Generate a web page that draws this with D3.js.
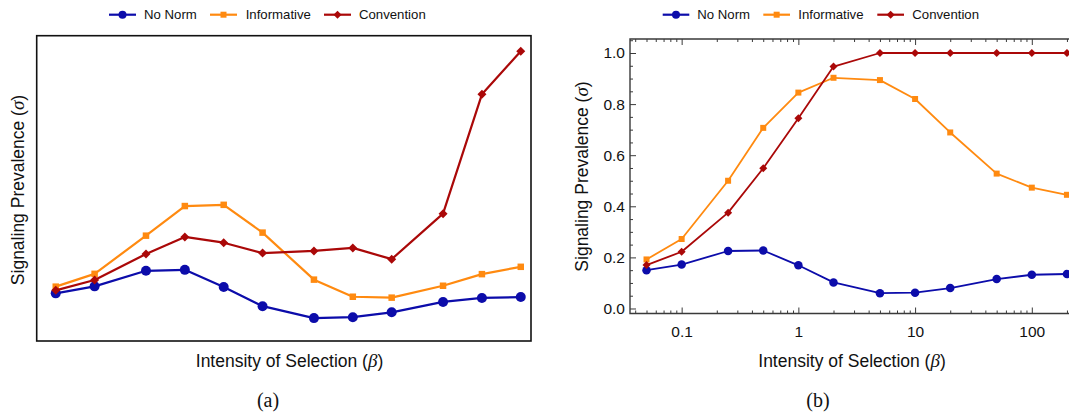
<!DOCTYPE html>
<html><head><meta charset="utf-8">
<script src="https://cdn.jsdelivr.net/npm/d3@7"></script>
<style>
html,body{margin:0;padding:0;background:#fff;}
svg{display:block;}
text{fill:#111;}
</style></head>
<body>
<svg id="c" width="1069" height="414" font-family="'Liberation Sans',Arial,Helvetica,sans-serif"></svg>
<script>
// ---------- data ----------
const beta = [0.05, 0.1, 0.25, 0.5, 1, 2, 5, 10, 20, 50, 100, 200];
const seriesNames = ["No Norm", "Informative", "Convention"];
// panel (a): no y scale shown, relative units (0 = bottom of frame, 1 = top)
const noNormA      = [0.156, 0.179, 0.230, 0.233, 0.177, 0.114, 0.075, 0.078, 0.094, 0.128, 0.141, 0.144];
const informativeA = [0.178, 0.220, 0.345, 0.442, 0.446, 0.355, 0.201, 0.145, 0.142, 0.181, 0.219, 0.243];
const conventionA  = [0.166, 0.200, 0.285, 0.341, 0.322, 0.288, 0.295, 0.305, 0.268, 0.417, 0.808, 0.949];
// panel (b)
const noNormB      = [0.150, 0.172, 0.225, 0.227, 0.169, 0.102, 0.060, 0.062, 0.080, 0.115, 0.132, 0.135];
const informativeB = [0.192, 0.272, 0.500, 0.707, 0.845, 0.903, 0.894, 0.820, 0.689, 0.528, 0.473, 0.445];
const conventionB  = [0.170, 0.222, 0.375, 0.549, 0.745, 0.947, 1.000, 1.000, 1.000, 1.000, 1.000, 1.000];
const yTicksB = [0, 0.2, 0.4, 0.6, 0.8, 1.0];
const yTickLabelsB = ["0.0", "0.2", "0.4", "0.6", "0.8", "1.0"];
const xTicksB = [0.1, 1, 10, 100];
const xTickLabelsB = ["0.1", "1", "10", "100"];

const colors = ["#0c0caa", "#ff8a10", "#aa0808"];
const symbols = ["circle", "square", "diamond"];
const serif = "'Liberation Serif','DejaVu Serif',serif";

const svg = d3.select("#c");

function markerPath(type, s) {
  if (type === "circle") return d3.symbol(d3.symbolCircle, Math.PI * s * s / 4)();
  if (type === "square") return d3.symbol(d3.symbolSquare, s * s)();
  const h = s / 2;
  return `M0,${-h}L${h},0L0,${h}L${-h},0Z`;
}

function drawSeries(g, x, y, data, cfg) {
  data.forEach((vals, i) => {
    const pts = beta.map((b, j) => [b, vals[j]]);
    const line = d3.line().x(d => x(d[0])).y(d => y(d[1]));
    g.append("path").attr("d", line(pts)).attr("fill", "none")
      .attr("stroke", colors[i]).attr("stroke-width", cfg.lw).attr("stroke-linejoin", "round");
    g.selectAll(null).data(pts).enter().append("path")
      .attr("d", markerPath(symbols[i], cfg.size[i]))
      .attr("transform", d => `translate(${x(d[0])},${y(d[1])})`)
      .attr("fill", colors[i]);
  });
}

function legend(yc, positions) {
  const g = svg.append("g");
  seriesNames.forEach((n, i) => {
    const p = positions[i];
    g.append("line").attr("x1", p[0]).attr("x2", p[1]).attr("y1", yc).attr("y2", yc)
      .attr("stroke", colors[i]).attr("stroke-width", 2.2);
    g.append("path").attr("d", markerPath(symbols[i], [8, 6, 8][i]))
      .attr("transform", `translate(${(p[0] + p[1]) / 2},${yc})`).attr("fill", colors[i]);
    g.append("text").attr("x", p[2]).attr("y", yc).attr("dy", "0.35em")
      .attr("font-size", 13.2).text(n);
  });
}

function yTitle(cx, cy) {
  const t = svg.append("text").attr("transform", `translate(${cx},${cy}) rotate(-90)`)
    .attr("text-anchor", "middle").attr("dy", "0.35em").attr("font-size", 17.5);
  t.append("tspan").text("Signaling Prevalence (");
  t.append("tspan").style("font-family", serif).style("font-style", "italic").attr("font-size", 19).text("σ");
  t.append("tspan").text(")");
}
function xTitle(cx, cy) {
  const t = svg.append("text").attr("x", cx).attr("y", cy)
    .attr("text-anchor", "middle").attr("dy", "0.35em").attr("font-size", 17.5);
  t.append("tspan").text("Intensity of Selection (");
  t.append("tspan").style("font-family", serif).style("font-style", "italic").attr("font-size", 19).text("β");
  t.append("tspan").text(")");
}
function caption(cx, label) {
  svg.append("text").attr("x", cx).attr("y", 400).attr("dy", "0.35em").attr("text-anchor", "middle")
    .style("font-family", serif).attr("font-size", 20).text(label);
}

// ---------- panel (a) ----------
{
  const L = 36.7, R = 531, T = 35.7, B = 341;
  const x = d3.scaleLog().domain([0.0356, 240]).range([L, R]);
  const y = d3.scaleLinear().domain([0, 1]).range([B, T]);
  const g = svg.append("g");
  drawSeries(g, x, y, [noNormA, informativeA, conventionA], {lw: 2.2, size: [10, 6.5, 9]});
  g.append("rect").attr("x", L).attr("y", T).attr("width", R - L).attr("height", B - T)
    .attr("fill", "none").attr("stroke", "#111").attr("stroke-width", 1.6);
  legend(14.7, [[109, 136, 144], [210, 237, 245.7], [324, 351, 359]]);
  yTitle(18, 190);
  xTitle(289.5, 360.7);
  caption(268, "(a)");
}

// ---------- panel (b) ----------
{
  const L = 630, R = 1072, T = 39, B = 313.5;
  const x = d3.scaleLog().domain([0.0361, 221]).range([L, R]);
  const y = d3.scaleLinear().domain([-0.0196, 1.0548]).range([B, T]);
  const g = svg.append("g");
  const frameColor = "#3a3a3a";

  const minorX = [];
  [0.01, 0.1, 1, 10, 100].forEach(d => { for (let k = 1; k <= 9; k++) { const v = d * k; if (v > 0.0361 && v < 221) minorX.push(v); } });
  const minorOnly = minorX.filter(v => !xTicksB.some(t => Math.abs(t - v) < 1e-9));
  const xAxisB = d3.axisBottom(x).tickValues(xTicksB).tickFormat((d, i) => xTickLabelsB[i]).tickSize(-6).tickPadding(12);
  const xAxisBMinor = d3.axisBottom(x).tickValues(minorOnly).tickFormat("").tickSize(-3);
  const xTopMajor = d3.axisTop(x).tickValues(xTicksB).tickFormat("").tickSize(-6);
  const xTopMinor = d3.axisTop(x).tickValues(minorOnly).tickFormat("").tickSize(-3);

  const minorY = d3.range(0, 1.051, 0.05).filter(v => Math.abs(Math.round(v * 5) - v * 5) > 1e-6);
  const yAxisB = d3.axisLeft(y).tickValues(yTicksB).tickFormat((d, i) => yTickLabelsB[i]).tickSize(-6).tickPadding(5);
  const yAxisBMinor = d3.axisLeft(y).tickValues(minorY).tickFormat("").tickSize(-3);

  drawSeries(g, x, y, [noNormB, informativeB, conventionB], {lw: 1.8, size: [8.5, 6, 8]});

  const axes = [
    [xAxisB, `translate(0,${B})`], [xAxisBMinor, `translate(0,${B})`],
    [xTopMajor, `translate(0,${T})`], [xTopMinor, `translate(0,${T})`],
    [yAxisB, `translate(${L},0)`], [yAxisBMinor, `translate(${L},0)`]
  ];
  axes.forEach(([ax, tr]) => {
    const a = svg.append("g").attr("transform", tr).call(ax);
    a.select(".domain").remove();
    a.attr("font-family", null);
    a.selectAll(".tick line").attr("stroke", frameColor).attr("stroke-width", 1);
    a.selectAll(".tick text").attr("font-size", 15.5).attr("fill", "#111");
  });
  svg.append("path").attr("d", `M${R},${T}H${L}V${B}H${R}`).attr("fill", "none")
    .attr("stroke", frameColor).attr("stroke-width", 1.4);

  legend(14.7, [[662.7, 689.3, 697.3], [763.3, 790, 798.3], [877.3, 904, 912.3]]);
  yTitle(582, 176.5);
  xTitle(852, 360.7);
  caption(818, "(b)");
}
</script>
</body></html>
